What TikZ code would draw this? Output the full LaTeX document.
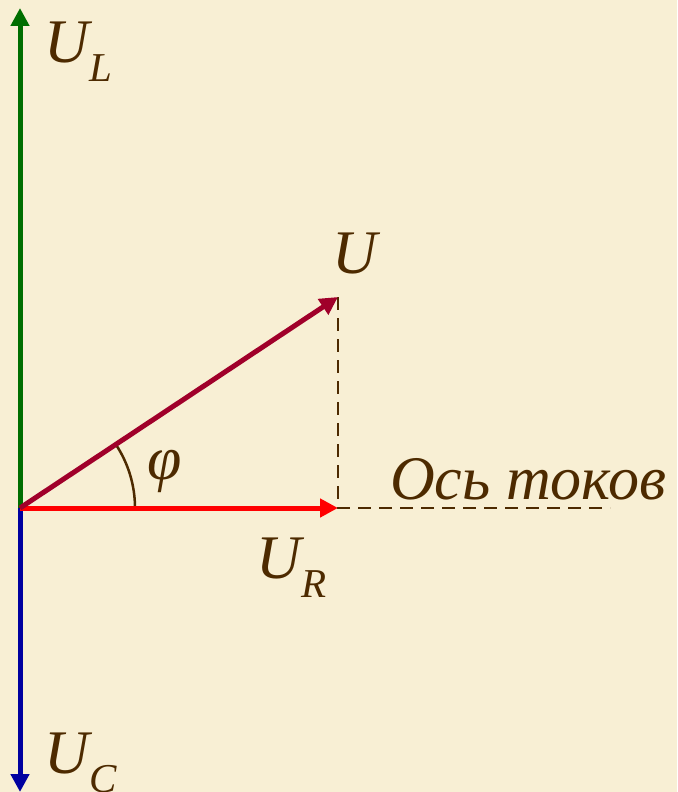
\documentclass[tikz,border=0pt]{standalone}
\usepackage{fontspec}
\setmainfont{Liberation Serif}
\usetikzlibrary{arrows.meta}
\definecolor{bg}{RGB}{248,239,212}
\definecolor{ink}{RGB}{77,42,0}
\definecolor{ulcol}{RGB}{0,110,0}
\definecolor{uccol}{RGB}{0,0,160}
\definecolor{urcol}{RGB}{255,0,0}
\definecolor{ucol}{RGB}{160,0,42}
\newcommand{\vsub}[2]{#1\kern1pt\raisebox{-19pt}{\fontsize{41}{41}\selectfont #2}}

\begin{document}
\begin{tikzpicture}[x=1pt,y=-1pt,
  vec/.style={line width=5pt,-{Triangle[length=18pt,width=18pt]}},
  helper/.style={ink,line width=2.5pt,dash pattern=on 13pt off 8pt},
  lbl/.style={ink,inner sep=0pt,anchor=base west,font=\fontsize{62}{62}\selectfont\itshape}
]
\fill[bg] (0,0) rectangle (677,792);
\useasboundingbox (0,0) rectangle (677,792);
\coordinate (O) at (20,508);
\coordinate (L) at (20,8);
\coordinate (C) at (20,792);
\coordinate (R) at (338,508);
\coordinate (U) at (338,297);
\coordinate (axis) at (610,508);
\draw[helper] (U) -- (R) -- (axis);
\draw[ink,line width=2.5pt] (135,508) arc[start angle=0,end angle=-33.6,radius=115];
\draw[vec,ulcol] (O) -- (L);
\draw[vec,uccol] (O) -- (C);
\draw[vec,urcol] (O) -- (R);
\draw[vec,ucol] (O) -- (U);
\node[lbl] (ul) at (44,63) {\vsub{U}{L}};
\node[lbl] (uc) at (44,773) {\vsub{U}{C}};
\node[lbl] (ur) at (256,578) {\vsub{U}{R}};
\node[lbl] (u) at (332,273) {U};
\node[lbl] (phi) at (147,479) {φ};
\node[lbl] (os) at (390,499) {Ось токов};
\end{tikzpicture}
\end{document}
